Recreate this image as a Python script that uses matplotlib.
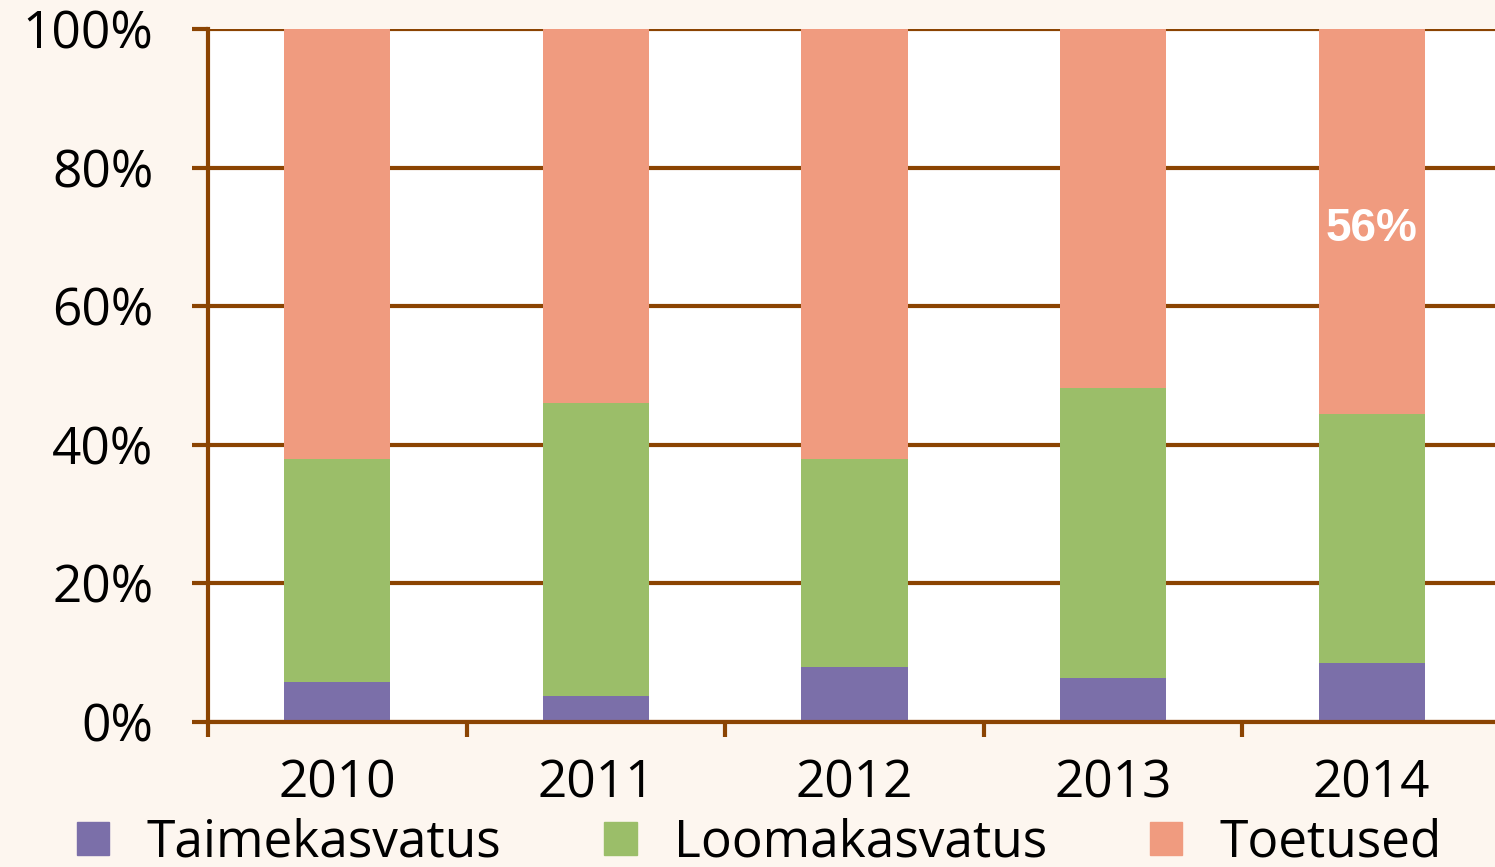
import matplotlib
matplotlib.use("Agg")
import matplotlib.pyplot as plt
from matplotlib.patches import Patch
import numpy as np

years = ["2010", "2011", "2012", "2013", "2014"]
taimekasvatus = [5.8, 3.8, 7.9, 6.3, 8.5]
loomakasvatus = [32.1, 42.2, 30.0, 41.9, 35.9]
toetused = [62.1, 54.0, 62.1, 51.8, 55.6]
series_names = ["Taimekasvatus", "Loomakasvatus", "Toetused"]
colors = ["#7B6FA9", "#9BBE69", "#F09B7F"]
label_2014 = "56%"

brown = "#8B4402"
bg = "#FDF6EF"
plt.rcParams['font.family'] = ['Open Sans', 'DejaVu Sans']

fig = plt.figure(figsize=(14.95, 8.67), dpi=100, facecolor=bg)
ax = fig.add_axes([208/1495, 1-722/867, (1501-208)/1495, (722-29)/867])
ax.set_facecolor("white")

x = np.arange(len(years)) + 0.5
w = 0.41
bottom = np.zeros(len(years))
for vals, c, name in zip([taimekasvatus, loomakasvatus, toetused], colors, series_names):
    ax.bar(x, vals, w, bottom=bottom, color=c, zorder=3, label=name)
    bottom += np.array(vals)

lbl_base = taimekasvatus[4] + loomakasvatus[4]
ax.text(x[4], lbl_base + toetused[4] * 0.48, label_2014, color="white", fontsize=33,
        fontweight="bold", family="Liberation Sans", ha="center", va="center", zorder=4)

ax.set_xlim(0, 5)
ax.set_ylim(0, 100)
ax.set_yticks([0, 20, 40, 60, 80, 100])
ax.set_yticklabels([f"{v}%" for v in [0, 20, 40, 60, 80, 100]], fontsize=37)
ax.yaxis.grid(True, color=brown, linewidth=3, zorder=1)
ax.set_axisbelow(True)
ax.tick_params(axis="y", length=11.5, width=3, color=brown, pad=28)

ax.set_xticks(np.arange(0, 6))
ax.set_xticklabels([])
ax.set_xticks(x, minor=True)
ax.set_xticklabels(years, minor=True, fontsize=37)
ax.tick_params(axis="x", which="major", length=11, width=3, color=brown, direction="out")
ax.tick_params(axis="x", which="minor", length=0, pad=26)

for s in ["top", "right"]:
    ax.spines[s].set_visible(False)
for s in ["left", "bottom"]:
    ax.spines[s].set_color(brown)
    ax.spines[s].set_linewidth(3)
    ax.spines[s].set_zorder(5)

handles = [Patch(color=c) for c in colors]
fig.legend(handles, series_names, loc="center left", bbox_to_anchor=(77/1495, 1-843/867),
           ncol=3, frameon=False, fontsize=37, handlelength=0.63, handleheight=0.63,
           handletextpad=0.73, columnspacing=2.0, borderpad=0, borderaxespad=0)

fig.savefig("out.png", dpi=100, facecolor=bg)
